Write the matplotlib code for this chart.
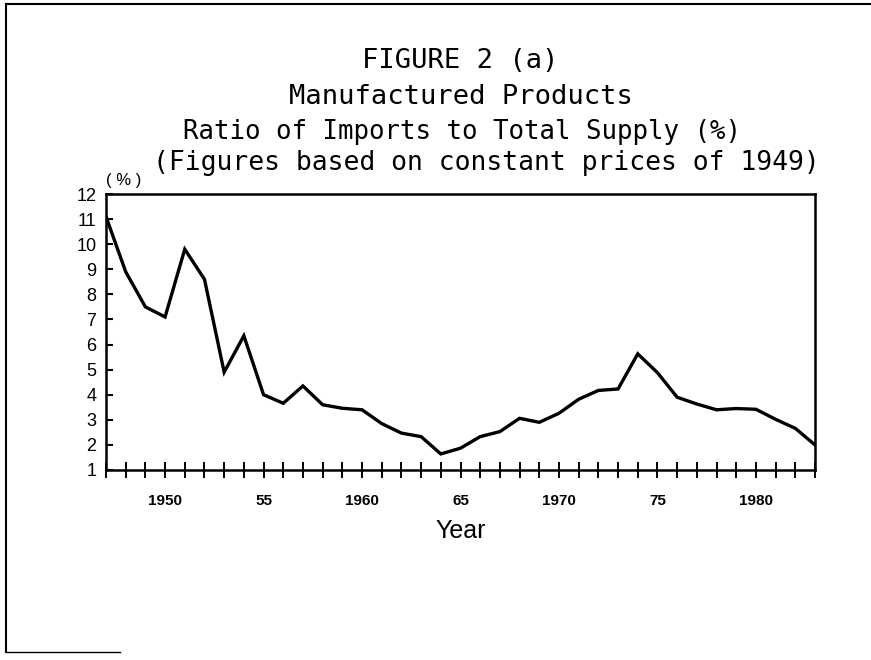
import numpy as np
import matplotlib
matplotlib.use("Agg")
import matplotlib.pyplot as plt
from matplotlib.lines import Line2D

plt.rcParams["font.family"] = ["Liberation Sans", "DejaVu Sans"]

# data
years = list(range(1947, 1984))
ratio = [11.1, 8.9, 7.5, 7.1, 9.8, 8.6, 4.9, 6.35, 4.0, 3.66,
         4.35, 3.6, 3.46, 3.4, 2.85, 2.47, 2.33, 1.64, 1.87, 2.33,
         2.53, 3.06, 2.9, 3.26, 3.82, 4.17, 4.23, 5.63, 4.88, 3.9,
         3.63, 3.4, 3.45, 3.42, 3.02, 2.66, 2.0]
label_years = [1950, 1955, 1960, 1965, 1970, 1975, 1980]
label_text = ["1950", "55", "1960", "65", "1970", "75", "1980"]
y_ticks = list(range(1, 13))

title_lines = ["FIGURE 2 (a)", "Manufactured Products",
               "Ratio of Imports to Total Supply (%)",
               "(Figures based on constant prices of 1949)"]

W, H = 871, 660
fig = plt.figure(figsize=(W / 100, H / 100), dpi=100)
fig.patch.set_facecolor("white")

ax = fig.add_axes([106 / W, 1 - 470 / H, (815 - 106) / W, (470 - 194) / H])
ax.plot(years, ratio, color="black", linewidth=2.4, solid_joinstyle="miter")

ax.set_xlim(1947, 1983)
ax.set_ylim(1, 12)
for s in ax.spines.values():
    s.set_linewidth(1.8)

ax.set_yticks(y_ticks)
ax.set_yticklabels([str(v) for v in y_ticks], fontsize=13)
ax.tick_params(axis="y", direction="in", length=5, width=1.5, pad=7)

ax.set_xticks(label_years)
ax.set_xticklabels(label_text, fontsize=11, fontweight="bold")
ax.set_xticks(years, minor=True)
ax.tick_params(axis="x", which="both", direction="inout", length=12, width=1.4, pad=11)

ax.set_xlabel("Year", fontsize=18, labelpad=8)

# "( % )" unit mark above the y axis
fig.text(124 / W, 1 - 180 / H, "( % )", fontsize=12, ha="center", va="center")

# title block (centre x, baseline y in pixels); wide evenly spaced lettering
anchors = [(460, 68), (461, 104), (462, 139), (486, 170)]
sizes = [19.5, 19.5, 18.5, 19]
for txt, (cx, by), fs in zip(title_lines, anchors, sizes):
    fig.text(cx / W, 1 - by / H, txt, fontsize=fs, family="DejaVu Sans Mono",
             ha="center", va="baseline")

# page frame from the scan
fig.add_artist(Line2D([6 / W, 1], [1 - 4 / H, 1 - 4 / H], color="black", linewidth=1.5))
fig.add_artist(Line2D([6 / W, 6 / W], [1 - 4 / H, 1 - 652 / H], color="black", linewidth=1.5))
fig.add_artist(Line2D([6 / W, 120 / W], [1 - 652 / H, 1 - 652 / H], color="black", linewidth=1.0))

fig.savefig("out.png", dpi=100)
